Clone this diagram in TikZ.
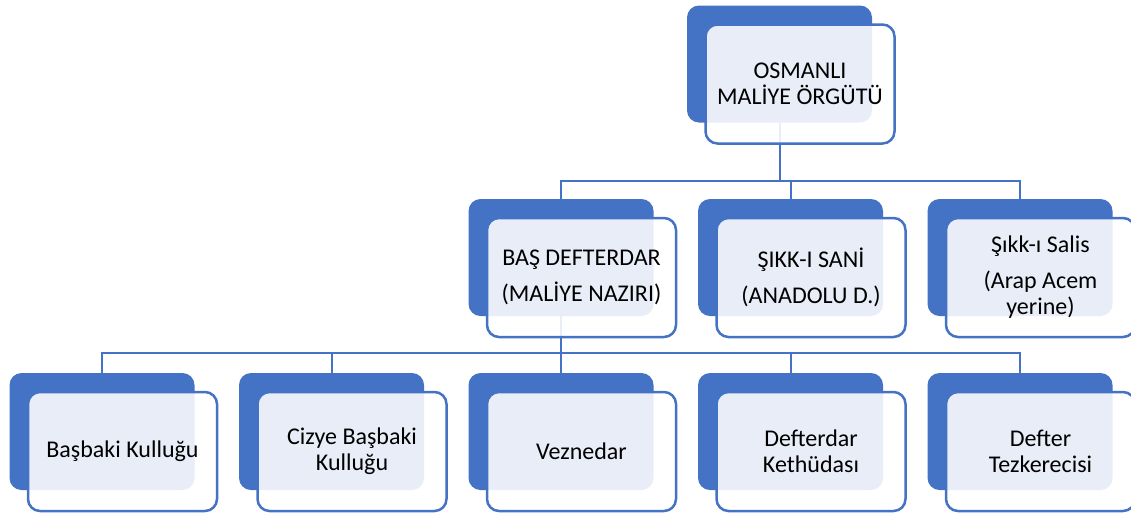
\documentclass[tikz,border=0pt]{standalone}
\usepackage{fontspec}
\setmainfont{Carlito}
\usetikzlibrary{positioning}
\definecolor{smblue}{HTML}{4472C4}

\begin{document}
\begin{tikzpicture}[x=1pt,y=-1pt,
backbox/.style={fill=smblue, rounded corners=12pt, minimum width=185pt, minimum height=117pt, inner sep=0pt},
frontbox/.style={draw=smblue, line width=2.5pt, fill=white, fill opacity=0.88, text opacity=1, rounded corners=12pt,
  minimum width=189pt, minimum height=119pt, inner sep=0pt, align=center, xshift=20.5pt, yshift=-20pt,
  font=\fontsize{24}{26}\selectfont},
link/.style={draw=smblue, line width=2pt}]
\useasboundingbox (0,0) rectangle (1131,515);
% back boxes
\node[backbox] (t)  at (779.5,64) {};
\node[backbox] (b1) at (561,257.5) {};
\node[backbox] (b2) at (790.5,257.5) {};
\node[backbox] (b3) at (1020,257.5) {};
\node[backbox] (k1) at (102,431.5) {};
\node[backbox] (k2) at (331.5,431.5) {};
\node[backbox] (k3) at (561,431.5) {};
\node[backbox] (k4) at (790.5,431.5) {};
\node[backbox] (k5) at (1020,431.5) {};
% connectors
\foreach \n in {b1,b2,b3}
  \draw[link] (t.south) |- ([yshift=18pt]\n.north) -- (\n.north);
\foreach \n in {k1,k2,k3,k4,k5}
  \draw[link] (b1.south) |- ([yshift=20pt]\n.north) -- (\n.north);
% front boxes
\node[frontbox] (T)  at (t)  {OSMANLI\\MALİYE ÖRGÜTÜ};
\node[frontbox] (B1) at (b1) {BAŞ DEFTERDAR\\[10pt](MALİYE NAZIRI)};
\node[frontbox] (B2) at (b2) {ŞIKK-I SANİ\\[10pt](ANADOLU D.)};
\node[frontbox] (B3) at (b3) {Şıkk-ı Salis\\[10pt](Arap Acem\\yerine)};
\node[frontbox] (K1) at (k1) {Başbaki Kulluğu};
\node[frontbox] (K2) at (k2) {Cizye Başbaki\\Kulluğu};
\node[frontbox] (K3) at (k3) {Veznedar};
\node[frontbox] (K4) at (k4) {Defterdar\\Kethüdası};
\node[frontbox] (K5) at (k5) {Defter\\Tezkerecisi};
\end{tikzpicture}
\end{document}
